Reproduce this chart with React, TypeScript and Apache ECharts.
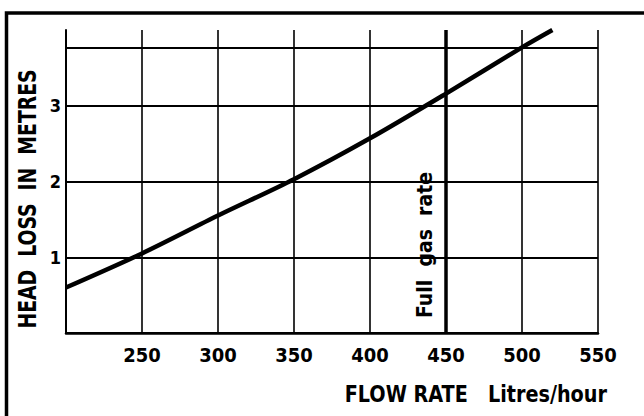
import React, { useEffect, useRef } from "react";
import * as echarts from "echarts";

const flowRates = [200, 250, 300, 350, 400, 450, 500, 520];
const headLoss = [0.6, 1.05, 1.55, 2.03, 2.57, 3.16, 3.77, 4.0];
const fullGasRate = 450;
const topGridLine = 3.77;
const yTickLabels = ["1", "2", "3"];

const FONT = "'Liberation Sans Narrow', 'DejaVu Sans Condensed', sans-serif";

export default function App() {
  const ref = useRef<HTMLDivElement>(null);
  useEffect(() => {
    document.body.style.margin = "0";
    const chart = echarts.init(ref.current!, null, { renderer: "svg" });
    chart.setOption({
      animation: false,
      backgroundColor: "#ffffff",
      grid: { left: 66, right: 46, top: 30, bottom: 83 },
      xAxis: {
        type: "value",
        min: 200,
        max: 550,
        interval: 50,
        axisLine: { show: true, lineStyle: { color: "#000", width: 2.5 } },
        axisTick: { show: false },
        splitLine: { show: true, lineStyle: { color: "#000", width: 1.6 } },
        axisLabel: {
          color: "#000",
          fontFamily: FONT,
          fontWeight: "bold",
          fontSize: 20,
          margin: 12,
          formatter: (v: number) => (v === 200 ? "" : String(v)),
        },
      },
      yAxis: {
        type: "value",
        min: 0,
        max: 4,
        interval: 1,
        axisLine: { show: true, lineStyle: { color: "#000", width: 2 } },
        axisTick: { show: false },
        splitLine: { show: true, showMaxLine: false, lineStyle: { color: "#000", width: 2 } },
        axisLabel: {
          color: "#000",
          fontFamily: FONT,
          fontWeight: "bold",
          fontSize: 18,
          margin: 5,
          formatter: (v: number) => (yTickLabels.includes(String(v)) ? String(v) : ""),
        },
      },
      series: [
        {
          type: "line",
          data: flowRates.map((x, i) => [x, headLoss[i]]),
          smooth: 0.3,
          showSymbol: false,
          lineStyle: { color: "#000", width: 4.5 },
          clip: false,
          markLine: {
            silent: true,
            symbol: "none",
            label: { show: false },
            data: [
              { xAxis: fullGasRate, lineStyle: { color: "#000", width: 3.5, type: "solid" } },
              { yAxis: topGridLine, lineStyle: { color: "#000", width: 2, type: "solid" } },
            ],
          },
        },
      ],
      graphic: [
        {
          type: "polyline",
          shape: { points: [[6.5, 416], [6.5, 13], [644, 13]] },
          style: { stroke: "#000", lineWidth: 3.5, fill: null },
        },
        {
          type: "text",
          x: 27,
          y: 199,
          rotation: Math.PI / 2,
          scaleX: 0.87,
          style: {
            text: "HEAD  LOSS  IN  METRES",
            font: `bold 24px ${FONT}`,
            fill: "#000",
            align: "center",
            verticalAlign: "middle",
          },
        },
        {
          type: "text",
          x: 425,
          y: 245,
          rotation: Math.PI / 2,
          style: {
            text: "Full  gas  rate",
            font: `bold 21px ${FONT}`,
            fill: "#000",
            align: "center",
            verticalAlign: "middle",
          },
        },
        {
          type: "text",
          x: 607,
          y: 394,
          scaleX: 0.93,
          style: {
            text: "FLOW RATE   Litres/hour",
            font: `bold 23px ${FONT}`,
            fill: "#000",
            align: "right",
            verticalAlign: "middle",
          },
        },
      ],
    });
    return () => chart.dispose();
  }, []);
  return <div ref={ref} style={{ width: 644, height: 416 }} />;
}
